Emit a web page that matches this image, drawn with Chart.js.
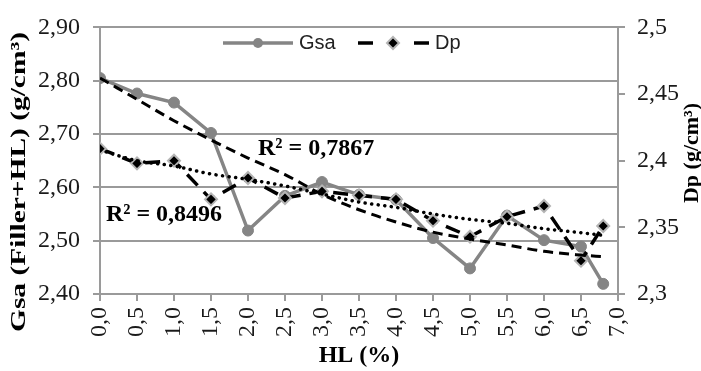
<!DOCTYPE html>
<html>
<head>
<meta charset="utf-8">
<script src="https://cdn.jsdelivr.net/npm/chart.js@4/dist/chart.umd.min.js"></script>
<style>
  html, body { margin: 0; padding: 0; background: #fff; }
  #wrap { width: 701px; height: 371px; }
</style>
</head>
<body>
<div id="wrap"><canvas id="chart" width="701" height="371"></canvas></div>
<script>
// HL (%) values of the measured points
const hl = [0, 0.5, 1.0, 1.5, 2.0, 2.5, 3.0, 3.5, 4.0, 4.5, 5.0, 5.5, 6.0, 6.5, 6.8];
// Gsa (Filler+HL), left axis
const gsa = [2.805, 2.776, 2.759, 2.702, 2.519, 2.584, 2.610, 2.586, 2.577, 2.505, 2.448, 2.547, 2.501, 2.489, 2.419];
// Dp, right axis
const dp = [2.409, 2.398, 2.400, 2.371, 2.387, 2.372, 2.377, 2.374, 2.371, 2.355, 2.343, 2.358, 2.366, 2.325, 2.351];

// trendlines
const trendX = [0, 0.5, 1.0, 1.5, 2.0, 2.5, 3.0, 3.5, 4.0, 4.5, 5.0, 5.5, 6.0, 6.5, 6.8];
const gsaTrend = [2.805, 2.765, 2.725, 2.689, 2.655, 2.624, 2.587, 2.558, 2.535, 2.516, 2.503, 2.492, 2.480, 2.473, 2.470];
const dpTrend = [2.408, 2.400, 2.396, 2.390, 2.386, 2.381, 2.375, 2.369, 2.365, 2.360, 2.356, 2.353, 2.349, 2.346, 2.344];

// R² labels: [text, x (HL), y (left axis)]
const r2Labels = [
    ['R² = 0,7867', 2.135, 2.673],
    ['R² = 0,8496', 0.08, 2.549]
];

const leftTitle = 'Gsa (Filler+HL) (g/cm³)';
const rightTitle = 'Dp (g/cm³)';
const xTitle = 'HL (%)';

const serif = "'Liberation Serif', 'Times New Roman', serif";
const sans = "'Liberation Sans', Arial, sans-serif";
const gridGray = '#9a9a9a';
const gsaGray = '#858585';

function pts(xs, ys) {
    return xs.map((x, i) => ({ x: x, y: ys[i] }));
}

function comma(v, digits) {
    return v.toFixed(digits).replace('.', ',');
}

// legend, y titles and R² labels
const extras = {
    id: 'extras',
    afterDraw(chart) {
        const ctx = chart.ctx;
        const xs = chart.scales.x, ys = chart.scales.y;
        ctx.save();

        // R² labels
        ctx.fillStyle = '#000';
        ctx.font = 'bold 24px ' + serif;
        ctx.textBaseline = 'middle';
        ctx.textAlign = 'left';
        r2Labels.forEach(l => {
            ctx.fillText(l[0], xs.getPixelForValue(l[1]), ys.getPixelForValue(l[2]));
        });

        // left title, stretched along its length like the original
        ctx.save();
        ctx.translate(19, 182);
        ctx.rotate(-Math.PI / 2);
        ctx.font = 'bold 22px ' + serif;
        ctx.textAlign = 'center';
        const w = ctx.measureText(leftTitle).width;
        ctx.scale(300 / w, 1);
        ctx.fillText(leftTitle, 0, 0);
        ctx.restore();

        // right title
        ctx.save();
        ctx.translate(692, 153);
        ctx.rotate(-Math.PI / 2);
        ctx.font = 'bold 22px ' + serif;
        ctx.textAlign = 'center';
        ctx.fillText(rightTitle, 0, 0);
        ctx.restore();

        // legend
        const ly = 43;
        ctx.lineWidth = 3.5;
        ctx.strokeStyle = gsaGray;
        ctx.beginPath();
        ctx.moveTo(223, ly); ctx.lineTo(293, ly);
        ctx.stroke();
        ctx.fillStyle = gsaGray;
        ctx.beginPath();
        ctx.arc(258, ly, 5, 0, Math.PI * 2);
        ctx.fill();

        ctx.strokeStyle = '#000';
        ctx.lineWidth = 3.5;
        ctx.beginPath();
        ctx.moveTo(358, ly); ctx.lineTo(373, ly);
        ctx.moveTo(414, ly); ctx.lineTo(429, ly);
        ctx.stroke();
        ctx.beginPath();
        ctx.moveTo(393, ly - 6); ctx.lineTo(399, ly); ctx.lineTo(393, ly + 6); ctx.lineTo(387, ly);
        ctx.closePath();
        ctx.fillStyle = '#000';
        ctx.fill();
        ctx.strokeStyle = '#b5b5b5';
        ctx.lineWidth = 2;
        ctx.stroke();

        ctx.fillStyle = '#222';
        ctx.font = '20px ' + sans;
        ctx.textAlign = 'left';
        ctx.fillText('Gsa', 299, ly);
        ctx.fillText('Dp', 435, ly);
        ctx.restore();
    }
};

new Chart(document.getElementById('chart'), {
    type: 'line',
    data: {
        datasets: [
            {
                label: 'Gsa',
                data: pts(hl, gsa),
                yAxisID: 'y',
                borderColor: gsaGray,
                backgroundColor: gsaGray,
                borderWidth: 3.5,
                pointRadius: 5.5,
                pointBorderWidth: 1,
                pointStyle: 'circle',
                order: 4
            },
            {
                label: 'Dp',
                data: pts(hl, dp),
                yAxisID: 'y2',
                borderColor: '#000',
                borderWidth: 3.5,
                borderDash: [15, 9],
                pointStyle: 'rectRot',
                pointRadius: 6,
                pointBackgroundColor: '#000',
                pointBorderColor: '#b5b5b5',
                pointBorderWidth: 2,
                order: 3
            },
            {
                label: 'Gsa trend',
                data: pts(trendX, gsaTrend),
                yAxisID: 'y',
                borderColor: '#000',
                borderWidth: 3,
                borderDash: [10, 6],
                pointRadius: 0,
                cubicInterpolationMode: 'monotone',
                order: 2
            },
            {
                label: 'Dp trend',
                data: pts(trendX, dpTrend),
                yAxisID: 'y2',
                borderColor: '#000',
                borderWidth: 3.5,
                borderDash: [0.1, 6.5],
                borderCapStyle: 'round',
                pointRadius: 0,
                cubicInterpolationMode: 'monotone',
                order: 1
            }
        ]
    },
    options: {
        responsive: false,
        animation: false,
        layout: { padding: { top: 19, left: 0, right: 0, bottom: 0 } },
        plugins: {
            legend: { display: false },
            tooltip: { enabled: false }
        },
        scales: {
            x: {
                type: 'linear',
                min: 0,
                max: 7,
                ticks: {
                    stepSize: 0.5,
                    autoSkip: false,
                    minRotation: 90,
                    maxRotation: 90,
                    padding: 6,
                    color: '#1a1a1a',
                    font: { family: serif, size: 24 },
                    callback: v => comma(v, 1)
                },
                grid: { drawOnChartArea: false, color: gridGray, lineWidth: 2, tickLength: 7 },
                border: { color: gridGray, width: 2 },
                title: {
                    display: true,
                    text: xTitle,
                    color: '#000',
                    font: { family: serif, size: 24, weight: 'bold' },
                    padding: { top: 0, bottom: 1 }
                },
                afterFit(s) { s.height = 77; }
            },
            y: {
                position: 'left',
                min: 2.4,
                max: 2.9,
                ticks: {
                    stepSize: 0.1,
                    padding: 13,
                    color: '#1a1a1a',
                    font: { family: serif, size: 24 },
                    callback: v => comma(v, 2)
                },
                grid: { color: gridGray, lineWidth: 2, tickLength: 7 },
                border: { color: gridGray, width: 2 },
                afterFit(s) { s.width = 100; }
            },
            y2: {
                position: 'right',
                min: 2.3,
                max: 2.5,
                ticks: {
                    stepSize: 0.05,
                    padding: 12,
                    color: '#1a1a1a',
                    font: { family: serif, size: 24 },
                    callback: v => String(parseFloat(v.toFixed(2))).replace('.', ',')
                },
                grid: { drawOnChartArea: false, color: gridGray, lineWidth: 2, tickLength: 7 },
                border: { color: gridGray, width: 2 },
                afterFit(s) { s.width = 83; }
            }
        }
    },
    plugins: [extras]
});
</script>
</body>
</html>
